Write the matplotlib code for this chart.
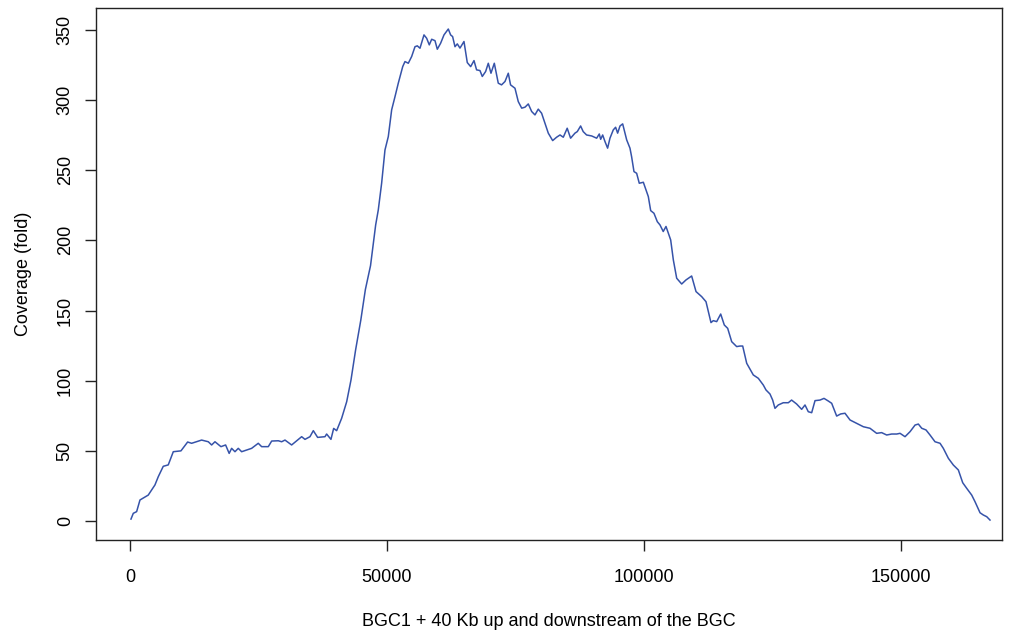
import matplotlib
matplotlib.use("Agg")
import matplotlib.pyplot as plt

# coverage along the BGC region
position = [200, 650, 1300, 1950, 3560, 4860, 5510, 6480, 7450, 8430,
            9920, 11220, 12000, 13940, 15240, 15890, 16540, 17700, 18610, 19300,
            19780, 20430, 21070, 21730, 23670, 24960, 25620, 26910, 27570, 28860,
            29510, 30160, 31450, 33400, 34050, 35020, 35670, 36510, 37940, 38260,
            39100, 39630, 40210, 41180, 42160, 43000, 43900, 44900, 45800, 46800,
            47800, 48310, 48960, 49610, 50260, 50910, 51560, 52200, 53060, 53500,
            54150, 54800, 55450, 55900, 56420, 57200, 57720, 58230, 58700, 59340,
            59790, 60440, 61090, 61930, 62380, 62770, 63230, 63680, 64200, 64980,
            65620, 66280, 66930, 67430, 68090, 68540, 69190, 69710, 70230, 70880,
            71650, 72290, 72960, 73600, 74040, 74900, 75540, 76210, 76850, 77490,
            78150, 78790, 79430, 80080, 80740, 81380, 82230, 83000, 83660, 84300,
            85060, 85720, 86570, 87020, 87670, 88170, 88830, 89820, 90790, 91300,
            91570, 91960, 92410, 92920, 93380, 94020, 94480, 94870, 95330, 95850,
            96630, 97270, 97590, 98050, 98570, 99080, 99870, 100390, 100840, 101300,
            101940, 102590, 103110, 103740, 104280, 105190, 105710, 106360, 107330, 108170,
            109270, 110120, 111220, 112060, 113030, 113480, 114140, 114920, 115620, 116280,
            117060, 118030, 118670, 119200, 119980, 121260, 122240, 123210, 123730, 124510,
            125030, 125480, 126120, 127090, 128070, 128710, 129690, 130670, 131320, 131960,
            132620, 133270, 134240, 135020, 135860, 136510, 137480, 138260, 139100, 140080,
            141370, 142670, 143960, 145260, 146230, 147210, 148180, 149160, 149810, 150780,
            151760, 152730, 153370, 154030, 154860, 155640, 156610, 157590, 158230, 159210,
            160180, 161150, 162000, 162780, 163750, 164390, 165370, 166010, 166670, 167310]
coverage = [1.4, 5.5, 6.7, 15.0, 18.5, 25.7, 31.6, 39.0, 40.0, 49.4,
            50.0, 56.3, 55.4, 57.7, 56.5, 54.2, 56.5, 53.0, 54.2, 48.2,
            51.8, 49.4, 51.8, 49.4, 51.8, 55.4, 53.0, 53.0, 57.0, 57.2,
            56.5, 57.7, 54.2, 60.1, 58.2, 60.1, 64.4, 59.6, 60.1, 62.0,
            58.2, 66.0, 64.4, 73.2, 85.0, 100.5, 122.0, 143.0, 165.0, 182.0,
            211.0, 221.7, 240.7, 264.4, 274.0, 293.0, 302.4, 312.0, 323.8, 327.4,
            326.2, 331.0, 338.0, 338.6, 336.9, 346.4, 344.0, 339.3, 343.3, 342.3,
            336.2, 340.5, 346.4, 350.6, 346.4, 345.2, 338.0, 340.0, 337.0, 341.7,
            326.7, 323.8, 328.1, 321.5, 321.0, 316.8, 320.3, 326.2, 319.1, 326.2,
            312.0, 310.8, 313.2, 319.1, 310.8, 308.4, 298.9, 294.2, 294.9, 297.2,
            291.8, 289.4, 293.5, 290.6, 283.5, 276.4, 271.1, 273.5, 275.1, 273.5,
            279.9, 272.8, 276.4, 277.5, 281.5, 277.5, 275.1, 274.4, 272.8, 275.8,
            272.0, 275.1, 270.4, 265.7, 272.8, 278.7, 280.6, 276.4, 281.5, 283.0,
            271.6, 265.7, 259.6, 249.0, 247.8, 240.7, 241.4, 236.0, 231.2, 221.2,
            219.3, 213.3, 211.0, 206.3, 209.9, 200.3, 186.0, 173.0, 168.9, 171.8,
            174.6, 163.5, 159.9, 156.3, 141.4, 142.8, 142.1, 147.5, 139.7, 137.3,
            127.8, 124.3, 124.7, 124.7, 112.4, 104.1, 101.7, 96.9, 93.4, 90.5,
            86.2, 80.3, 82.7, 84.3, 84.3, 86.2, 83.4, 79.6, 82.7, 77.9,
            77.2, 85.8, 86.2, 87.4, 85.5, 83.9, 74.8, 76.3, 76.8, 72.0,
            69.6, 67.2, 66.1, 62.5, 63.0, 61.3, 62.0, 62.0, 62.5, 60.1,
            63.7, 68.4, 69.1, 66.1, 64.9, 61.3, 56.5, 55.4, 51.8, 44.7,
            39.9, 36.4, 27.3, 23.3, 18.5, 13.8, 5.9, 4.3, 3.1, 0.7]

x_ticks = [0, 50000, 100000, 150000]
y_ticks = [0, 50, 100, 150, 200, 250, 300, 350]

plt.rcParams['font.family'] = ['Liberation Sans', 'DejaVu Sans']

fig = plt.figure(figsize=(10.14, 6.32), dpi=100)
ax = fig.add_axes([0.0947, 0.1456, 0.8935, 0.8418])
ax.plot(position, coverage, color="#3653a9", linewidth=1.1)

ax.set_xlim(-6600, 169650)
ax.set_ylim(-13.5, 365.6)
ax.set_xticks(x_ticks)
ax.set_xticklabels([str(t) for t in x_ticks])
ax.set_yticks(y_ticks)
ax.set_yticklabels([str(t) for t in y_ticks], rotation=90, va="center")
ax.tick_params(labelsize=13, length=8, width=1, color="#222222")
ax.tick_params(axis="x", pad=13)
ax.tick_params(axis="y", pad=8)
for s in ax.spines.values():
    s.set_linewidth(1)
    s.set_color("#222222")

ax.set_xlabel("BGC1 + 40 Kb up and downstream of the BGC", fontsize=13, labelpad=19)
ax.set_ylabel("Coverage (fold)", fontsize=13, labelpad=18)

fig.savefig("out.png", dpi=100)
